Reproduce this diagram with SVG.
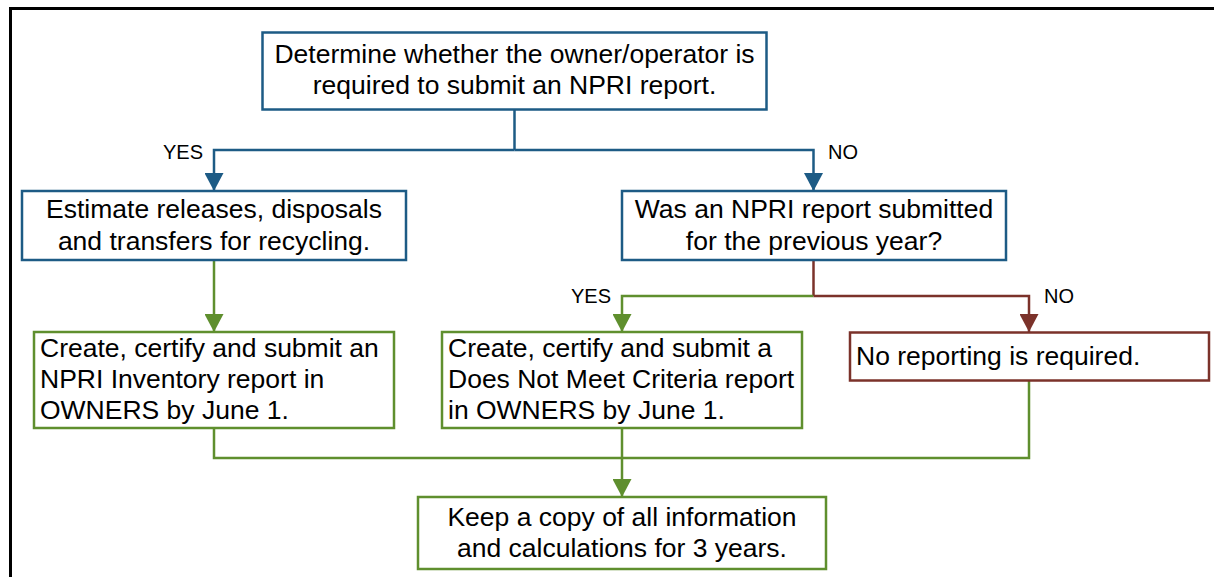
<svg xmlns="http://www.w3.org/2000/svg" width="1214" height="577" viewBox="0 0 1214 577">
  <style>
    .box { fill: #ffffff; stroke-width: 2.5; }
    .blue { stroke: #1d5b85; }
    .green { stroke: #5f8f2e; }
    .red { stroke: #7b322a; }
    .edge { fill: none; stroke-width: 2.5; }
    .t { font-family: "Liberation Sans", Arial, sans-serif; font-size: 26.5px; fill: #000000; }
    .c { text-anchor: middle; }
    .lbl { font-family: "Liberation Sans", Arial, sans-serif; font-size: 20px; fill: #000000; }
  </style>
  <defs>
    <marker id="ab" viewBox="0 0 18 19" refX="18" refY="9.5" markerWidth="18" markerHeight="19" markerUnits="userSpaceOnUse" orient="auto">
      <path d="M0,0 L18,9.5 L0,19 z" fill="#1d5b85"/>
    </marker>
    <marker id="ag" viewBox="0 0 18 19" refX="18" refY="9.5" markerWidth="18" markerHeight="19" markerUnits="userSpaceOnUse" orient="auto">
      <path d="M0,0 L18,9.5 L0,19 z" fill="#5f8f2e"/>
    </marker>
    <marker id="ar" viewBox="0 0 18 19" refX="18" refY="9.5" markerWidth="18" markerHeight="19" markerUnits="userSpaceOnUse" orient="auto">
      <path d="M0,0 L18,9.5 L0,19 z" fill="#7b322a"/>
    </marker>
  </defs>
  <rect width="1214" height="577" fill="#ffffff"/>
  <path d="M10.5,580 V8.5 H1220" fill="none" stroke="#000000" stroke-width="3"/>

  <g id="connectors">
    <path class="edge blue" d="M514.5,110 V150"/>
    <path class="edge blue" d="M514.5,150 H214 V191" marker-end="url(#ab)"/>
    <path class="edge blue" d="M514.5,150 H813.5 V191" marker-end="url(#ab)"/>
    <path class="edge green" d="M214,260 V332" marker-end="url(#ag)"/>
    <path class="edge red" d="M813.5,260 V296"/>
    <path class="edge green" d="M813.5,296 H622 V332" marker-end="url(#ag)"/>
    <path class="edge red" d="M813.5,296 H1029 V332" marker-end="url(#ar)"/>
    <path class="edge green" d="M214,428 V458 H1029 V380"/>
    <path class="edge green" d="M622,428 V497" marker-end="url(#ag)"/>
    <text class="lbl" x="163" y="159">YES</text>
    <text class="lbl" x="828" y="159">NO</text>
    <text class="lbl" x="571" y="302.5">YES</text>
    <text class="lbl" x="1044" y="302.5">NO</text>
  </g>

  <g id="determine">
    <rect class="box blue" x="262.5" y="32.5" width="504" height="77"/>
    <text class="t c" x="514.5" y="62.5">Determine whether the owner/operator is</text>
    <text class="t c" x="514.5" y="94">required to submit an NPRI report.</text>
  </g>

  <g id="estimate">
    <rect class="box blue" x="22" y="191" width="384" height="69"/>
    <text class="t c" x="214" y="217.5">Estimate releases, disposals</text>
    <text class="t c" x="214" y="250">and transfers for recycling.</text>
  </g>

  <g id="submitted">
    <rect class="box blue" x="622" y="191" width="384" height="69"/>
    <text class="t c" x="814" y="217.5">Was an NPRI report submitted</text>
    <text class="t c" x="814" y="250">for the previous year?</text>
  </g>

  <g id="inventory">
    <rect class="box green" x="34" y="332" width="360" height="96"/>
    <text class="t" x="40" y="356.5">Create, certify and submit an</text>
    <text class="t" x="40" y="388">NPRI Inventory report in</text>
    <text class="t" x="40" y="419">OWNERS by June 1.</text>
  </g>

  <g id="dnmc">
    <rect class="box green" x="442" y="332" width="360" height="96"/>
    <text class="t" x="448" y="356.5">Create, certify and submit a</text>
    <text class="t" x="448" y="387.5">Does Not Meet Criteria report</text>
    <text class="t" x="448" y="418.5">in OWNERS by June 1.</text>
  </g>

  <g id="noreport">
    <rect class="box red" x="850" y="332.5" width="359" height="48"/>
    <text class="t" x="856" y="365">No reporting is required.</text>
  </g>

  <g id="keep">
    <rect class="box green" x="418" y="497" width="408" height="72"/>
    <text class="t c" x="622" y="526">Keep a copy of all information</text>
    <text class="t c" x="622" y="556.5">and calculations for 3 years.</text>
  </g>
</svg>
